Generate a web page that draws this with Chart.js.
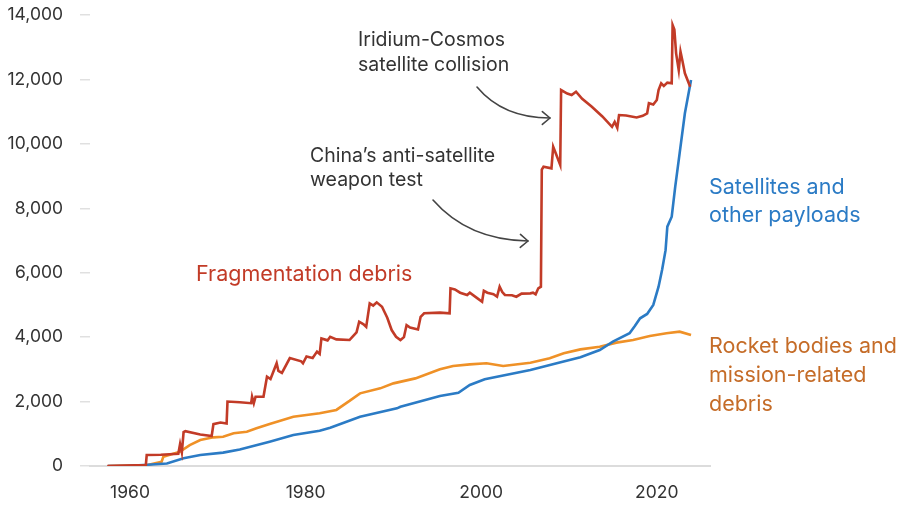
<!DOCTYPE html>
<html>
<head>
<meta charset="utf-8">
<script src="https://cdn.jsdelivr.net/npm/chart.js@4.4.1/dist/chart.umd.min.js"></script>
<style>
  html, body { margin: 0; padding: 0; background: #fff; }
  #wrap { width: 910px; height: 505px; position: relative; }
</style>
</head>
<body>
<div id="wrap"><canvas id="chart"></canvas></div>
<script>
// values
const fragYears = [1957.4, 1961.8, 1961.9, 1963.5, 1965.5, 1965.7, 1965.9, 1966.1, 1966.3, 1968, 1969.3, 1969.5, 1970.3, 1971, 1971.1,
  1972.5, 1973.8, 1973.9, 1974.1, 1974.3, 1975.2, 1975.6, 1976, 1976.7, 1976.9, 1977.3, 1978.2, 1979.5, 1979.7, 1980.1, 1980.8,
  1981.3, 1981.6, 1981.8, 1982.5, 1982.8, 1983.5, 1985, 1985.3, 1985.8, 1986.1, 1986.6, 1986.9, 1987.3, 1987.7, 1988.1, 1988.7,
  1989.3, 1989.8, 1990.3, 1990.8, 1991.2, 1991.5, 1991.9, 1992.8, 1993.1, 1993.5, 1995.3, 1996.4, 1996.5, 1997, 1997.6, 1998.4,
  1998.7, 1999.5, 2000.1, 2000.3, 2000.7, 2001.4, 2001.8, 2002.1, 2002.4, 2002.7, 2003.5, 2004, 2004.6, 2005.6, 2005.9, 2006.2,
  2006.5, 2006.8, 2006.9, 2007.1, 2008, 2008.2, 2008.5, 2009, 2009.1, 2009.8, 2010.3, 2010.8, 2011.5, 2012.6, 2013.8, 2014.9,
  2015.2, 2015.5, 2015.7, 2016.5, 2017.7, 2018.4, 2018.9, 2019.1, 2019.6, 2020, 2020.2, 2020.5, 2020.8, 2021.2, 2021.7, 2021.8,
  2022.0, 2022.2, 2022.5, 2022.7, 2022.9, 2023.2, 2023.8];
const fragValues = [0, 30, 340, 350, 380, 680, 420, 1050, 1080, 980, 930, 1300, 1350, 1320, 2000,
  1980, 1950, 2150, 1950, 2150, 2150, 2770, 2700, 3190, 2950, 2890, 3350, 3250, 3190, 3400, 3350,
  3550, 3480, 3960, 3900, 4010, 3930, 3910, 4000, 4150, 4480, 4400, 4320, 5050, 4980, 5080, 4945,
  4600, 4220, 4010, 3910, 4000, 4375, 4300, 4240, 4630, 4740, 4760, 4740, 5515, 5480, 5380, 5310,
  5380, 5220, 5100, 5440, 5380, 5330, 5255, 5565, 5400, 5310, 5300, 5255, 5350, 5360, 5380, 5330,
  5515, 5565, 9200, 9290, 9240, 9910, 9700, 9345, 11670, 11560, 11515, 11620, 11400, 11150, 10850, 10530,
  10680, 10500, 10895, 10880, 10820, 10870, 10945, 11260, 11220, 11360, 11670, 11880, 11800, 11900, 11880, 13690,
  13550, 12810, 12290, 12860, 12600, 12190, 11775];

const satYears = [1957.5, 1960, 1962, 1964.2, 1966.1, 1968, 1970.6, 1972.5, 1975.9, 1978.6, 1981.6, 1982.8, 1986.2, 1990.4,
  1990.8, 1995.3, 1997.4, 1998.7, 2000.4, 2005.6, 2008.6, 2011.3, 2013.5, 2015, 2016.9, 2017.5, 2018.1, 2018.9, 2019.6,
  2020.2, 2020.6, 2021, 2021.2, 2021.7, 2022.1, 2022.6, 2023.2, 2023.9];
const satValues = [0, 10, 40, 80, 240, 340, 415, 515, 755, 960, 1095, 1190, 1530, 1790,
  1840, 2170, 2275, 2515, 2690, 2980, 3190, 3375, 3600, 3860, 4120, 4345, 4585, 4720, 5000,
  5565, 6085, 6700, 7430, 7740, 8670, 9705, 10950, 11980];

const rocketYears = [1957.5, 1962, 1963.6, 1963.8, 1965.7, 1966.8, 1968, 1969.5, 1970.6, 1971.8, 1973.3, 1974.4, 1975.9,
  1978.6, 1981.6, 1983.5, 1985, 1986.2, 1988.5, 1990, 1992.5, 1995.3, 1996.8, 1998.7, 2000.6, 2002.5, 2005.6, 2007.8,
  2009.4, 2011.3, 2013.5, 2015.4, 2017.3, 2019.2, 2021.1, 2022.6, 2023.9];
const rocketValues = [0, 30, 135, 290, 445, 650, 805, 890, 910, 1015, 1065, 1170, 1305,
  1530, 1635, 1740, 2020, 2255, 2410, 2565, 2720, 3000, 3105, 3155, 3190, 3105, 3205, 3345,
  3500, 3620, 3700, 3830, 3910, 4035, 4120, 4170, 4065];

const xTicks = [1960, 1980, 2000, 2020];
const yTicks = [0, 2000, 4000, 6000, 8000, 10000, 12000, 14000];

const RED = '#c23b27';
const BLUE = '#2b7bc5';
const ORANGE = '#ef9127';
const ORANGE_TEXT = '#c56c28';
const INK = '#333333';
const FONT = 'Inter, "Noto Sans", sans-serif';

function points(xs, ys) {
  return xs.map((x, i) => ({ x: x, y: ys[i] }));
}

// text labels and arrows, placed in canvas pixels
const notes = [
  { lines: ['Iridium-Cosmos', 'satellite collision'], x: 358, y: 46, gap: 25, size: 19.5, color: INK },
  { lines: ['China\u2019s anti-satellite', 'weapon test'], x: 310, y: 162, gap: 24, size: 19.5, color: INK },
  { lines: ['Fragmentation debris'], x: 196, y: 281, gap: 28, size: 21.5, color: RED },
  { lines: ['Satellites and', 'other payloads'], x: 709, y: 194, gap: 28, size: 21.5, color: BLUE },
  { lines: ['Rocket bodies and', 'mission-related', 'debris'], x: 709, y: 353, gap: 29, size: 21.5, color: ORANGE_TEXT }
];
const arrows = [
  { from: [477, 87], ctrl: [503, 118], to: [550, 118] },
  { from: [433, 200], ctrl: [468, 240], to: [528, 241] }
];

const notesPlugin = {
  id: 'notes',
  afterDraw(chart) {
    const ctx = chart.ctx;
    ctx.save();
    ctx.textAlign = 'left';
    ctx.textBaseline = 'alphabetic';
    for (const n of notes) {
      ctx.font = n.size + 'px ' + FONT;
      ctx.fillStyle = n.color;
      n.lines.forEach((t, i) => ctx.fillText(t, n.x, n.y + i * n.gap));
    }
    ctx.strokeStyle = '#444';
    ctx.lineWidth = 1.6;
    ctx.lineCap = 'round';
    ctx.lineJoin = 'round';
    for (const a of arrows) {
      ctx.beginPath();
      ctx.moveTo(a.from[0], a.from[1]);
      ctx.quadraticCurveTo(a.ctrl[0], a.ctrl[1], a.to[0], a.to[1]);
      ctx.stroke();
      const ang = Math.atan2(a.to[1] - a.ctrl[1], a.to[0] - a.ctrl[0]);
      ctx.beginPath();
      ctx.moveTo(a.to[0] - 10 * Math.cos(ang - 0.7), a.to[1] - 10 * Math.sin(ang - 0.7));
      ctx.lineTo(a.to[0], a.to[1]);
      ctx.lineTo(a.to[0] - 10 * Math.cos(ang + 0.7), a.to[1] - 10 * Math.sin(ang + 0.7));
      ctx.stroke();
    }
    ctx.restore();
  }
};

const lineStyle = { pointRadius: 0, borderWidth: 2.6, tension: 0, fill: false };

new Chart(document.getElementById('chart'), {
  type: 'line',
  data: {
    datasets: [
      Object.assign({ label: 'Rocket bodies and mission-related debris', data: points(rocketYears, rocketValues), borderColor: ORANGE, order: 3 }, lineStyle),
      Object.assign({ label: 'Satellites and other payloads', data: points(satYears, satValues), borderColor: BLUE, order: 2 }, lineStyle),
      Object.assign({ label: 'Fragmentation debris', data: points(fragYears, fragValues), borderColor: RED, order: 1 }, lineStyle)
    ]
  },
  options: {
    responsive: true,
    maintainAspectRatio: false,
    animation: false,
    layout: { padding: { top: 15, right: 200, left: 0, bottom: 0 } },
    plugins: { legend: { display: false }, tooltip: { enabled: false } },
    scales: {
      x: {
        type: 'linear',
        min: 1955.44,
        max: 2026.06,
        afterBuildTicks: (scale) => { scale.ticks = xTicks.map(v => ({ value: v })); },
        afterFit: (scale) => { scale.height = 39; },
        grid: { display: false, drawTicks: false },
        border: { display: true, color: '#dcdcdc', width: 2 },
        ticks: {
          padding: 16,
          color: INK,
          font: { family: FONT, size: 17.5 },
          maxRotation: 0,
          callback: (v) => String(v)
        }
      },
      y: {
        min: 0,
        max: 14000,
        afterBuildTicks: (scale) => { scale.ticks = yTicks.map(v => ({ value: v })); },
        afterFit: (scale) => { scale.width = 90; scale.paddingTop = 0; scale.paddingBottom = 0; },
        grid: { drawOnChartArea: false, drawTicks: true, tickLength: 10, color: '#e0e0e0', lineWidth: 1.5 },
        border: { display: false },
        ticks: {
          padding: 17,
          color: INK,
          font: { family: FONT, size: 17.5 },
          callback: (v) => v.toLocaleString('en-US')
        }
      }
    }
  },
  plugins: [notesPlugin]
});
</script>
</body>
</html>
